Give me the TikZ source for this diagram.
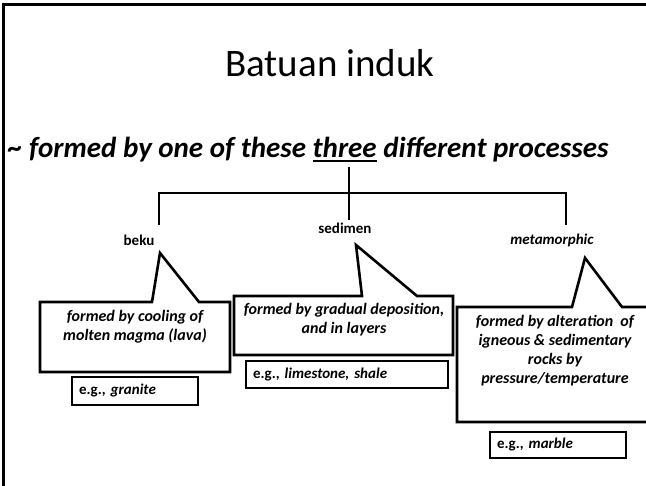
\documentclass[tikz,border=0pt]{standalone}
\usepackage{fontspec}
\setmainfont{Carlito}
\newcommand{\thickul}[1]{\setbox0\hbox{#1}\rlap{\rule[-4pt]{\wd0}{2pt}}\box0\relax}
\frenchspacing
\usetikzlibrary{positioning}

\begin{document}
\begin{tikzpicture}[x=1pt,y=-1pt]
    \tikzstyle{outline} = [line width=2.6pt, line join=miter]
    \tikzstyle{branch} = [line width=2.6pt]
    \tikzstyle{rocklabel} = [inner sep=0pt, font=\fontsize{15}{18}\selectfont\bfseries]
    \tikzstyle{desc} = [inner sep=0pt, align=center, font=\fontsize{16}{19}\selectfont\bfseries\itshape]
    \tikzstyle{egbox} = [draw, line width=2.6pt, inner xsep=7pt, inner ysep=0pt, align=left, font=\fontsize{15}{18}\selectfont\bfseries]

    \clip (0,0) rectangle (646,486);
    \draw [line width=2.7pt] (3.3,486) -- (3.3,4.7) -- (646,4.7);

    \node [anchor=base] (title) at (330,77) {\fontsize{39}{42}\selectfont Batuan induk};
    \node [anchor=base west, inner sep=0pt] (subtitle) at (8,158) {\fontsize{29}{32}\selectfont\bfseries\itshape \textasciitilde{} formed by one of these \thickul{three} different processes};

    \coordinate (stemtop) at (349,167);
    \coordinate (stembot) at (349,220);
    \coordinate (leftdrop) at (159,225);
    \coordinate (rightdrop) at (566,225);
    \draw [branch] (stemtop) -- (stembot);
    \draw [branch] (leftdrop) -- (leftdrop |- 0,193) -- (rightdrop |- 0,193) -- (rightdrop);

    \node [rocklabel, anchor=base] (beku) at (139,246) {beku};
    \node [rocklabel, anchor=base] (sedimen) at (345,234) {sedimen};
    \node [rocklabel, anchor=base] (meta) at (552,245) {\itshape metamorphic};

    \draw [outline] (40,302) -- (152,302) -- (160,253) -- (199,302) -- (230,302) -- (230,372) -- (40,372) -- cycle;
    \draw [outline] (234,296) -- (362,296) -- (356,245) -- (417,296) -- (453,296) -- (453,355) -- (234,355) -- cycle;
    \draw [outline] (660,422) -- (457,422) -- (457,307) -- (572,307) -- (585,258) -- (622,307) -- (660,307);

    \node [desc] (bekudesc) at (135,327) {formed by cooling of\\molten magma (lava)};
    \node [desc] (sedimendesc) at (344,320) {formed by gradual deposition,\\and in layers};
    \node [desc] (metadesc) at (555,351) {formed by alteration\ \ of\\igneous \& sedimentary\\rocks by\\pressure/temperature};

    \node [egbox, text width=112pt, minimum height=28pt] (granite) at (135,391) {e.g., \textit{granite}};
    \node [egbox, text width=188pt, minimum height=27pt] (limestone) at (347,374.5) {e.g., \textit{limestone, shale}};
    \node [egbox, text width=122pt, minimum height=26pt] (marble) at (558,445) {e.g., \textit{marble}};
\end{tikzpicture}
\end{document}
